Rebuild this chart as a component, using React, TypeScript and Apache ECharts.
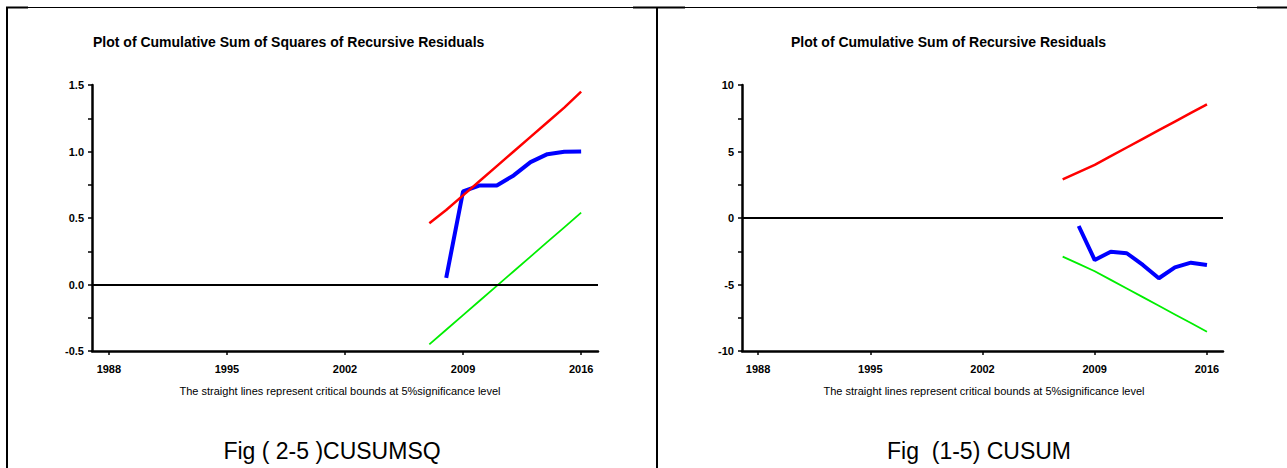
import React, { useEffect, useRef } from "react";
import * as echarts from "echarts";

// ---- data ----
const boundYears = [2007, 2008, 2009, 2010, 2011, 2012, 2013, 2014, 2015, 2016];
const residYears = [2008, 2009, 2010, 2011, 2012, 2013, 2014, 2015, 2016];

// CUSUMSQ (left)
const sqUpper = [0.46, 0.56, 0.67, 0.78, 0.89, 1.0, 1.11, 1.22, 1.33, 1.45];
const sqLower = [-0.45, -0.34, -0.23, -0.12, -0.01, 0.1, 0.21, 0.32, 0.43, 0.54];
const sqValues = [0.05, 0.7, 0.745, 0.745, 0.82, 0.92, 0.98, 0.998, 1.0];

// CUSUM (right)
const cuUpper = [2.9, 3.45, 4.0, 4.65, 5.3, 5.95, 6.6, 7.25, 7.9, 8.55];
const cuLower = [-2.9, -3.45, -4.0, -4.65, -5.3, -5.95, -6.6, -7.25, -7.9, -8.55];
const cuValues = [-0.6, -3.16, -2.53, -2.65, -3.53, -4.53, -3.71, -3.36, -3.53];

const xTickYears = [1988, 1995, 2002, 2009, 2016];

const leftTitle = "Plot of Cumulative Sum of Squares of Recursive Residuals";
const rightTitle = "Plot of Cumulative Sum of Recursive Residuals";
const footnote = "The straight lines represent critical bounds at 5%significance level";
const leftCaption = "Fig ( 2-5 )CUSUMSQ";
const rightCaption = "Fig  (1-5) CUSUM";

const FONT = "Liberation Sans, Arial, sans-serif";

const pairs = (xs: number[], ys: number[]) => xs.map((x, i) => [x, ys[i]]);

function xAxisFor(gridIndex: number) {
  return {
    gridIndex,
    type: "value",
    min: 1987,
    max: 2017,
    axisLine: { show: true, onZero: false, lineStyle: { color: "#000", width: 2.5 } },
    axisTick: { show: true, customValues: xTickYears, length: 4, lineStyle: { color: "#000", width: 1.5 } },
    axisLabel: {
      customValues: xTickYears,
      color: "#000",
      fontWeight: "bold",
      fontSize: 11,
      fontFamily: FONT,
      margin: 12,
      formatter: (v: number) => String(v),
    },
    splitLine: { show: false },
  };
}

function yAxisFor(gridIndex: number, min: number, max: number, interval: number, fmt: (v: number) => string) {
  return {
    gridIndex,
    type: "value",
    min,
    max,
    interval,
    axisLine: { show: true, onZero: false, lineStyle: { color: "#000", width: 2.5 } },
    axisTick: { show: true, length: 4, lineStyle: { color: "#000", width: 1.5 } },
    minorTick: { show: true, splitNumber: 2, length: 4, lineStyle: { color: "#000", width: 1.5 } },
    axisLabel: {
      color: "#000",
      fontWeight: "bold",
      fontSize: 11,
      fontFamily: FONT,
      margin: 8,
      formatter: fmt,
    },
    splitLine: { show: false },
    minorSplitLine: { show: false },
  };
}

function seriesFor(idx: number, upper: number[], lower: number[], values: number[]) {
  return [
    {
      type: "line",
      xAxisIndex: idx,
      yAxisIndex: idx,
      data: pairs(residYears, values),
      symbol: "none",
      lineStyle: { color: "#0000ff", width: 4 },
      z: 3,
    },
    {
      type: "line",
      xAxisIndex: idx,
      yAxisIndex: idx,
      data: pairs(boundYears, upper),
      symbol: "none",
      lineStyle: { color: "#ff0000", width: 2.5 },
      z: 4,
    },
    {
      type: "line",
      xAxisIndex: idx,
      yAxisIndex: idx,
      data: pairs(boundYears, lower),
      symbol: "none",
      lineStyle: { color: "#00ee00", width: 1.8 },
      z: 4,
      markLine: {
        silent: true,
        symbol: ["none", "none"],
        label: { show: false },
        lineStyle: { color: "#000", width: 2, type: "solid" },
        data: [{ yAxis: 0 }],
      },
    },
  ];
}

function txt(text: string, x: number, y: number, size: number, weight: string, align: string) {
  return {
    type: "text",
    x,
    y,
    silent: true,
    style: {
      text,
      fill: "#000",
      font: `${weight} ${size}px ${FONT}`,
      textAlign: align,
      textVerticalAlign: "middle",
    },
  };
}

function ln(x1: number, y1: number, x2: number, y2: number, w: number) {
  return {
    type: "line",
    silent: true,
    shape: { x1, y1, x2, y2 },
    style: { stroke: "#000", lineWidth: w },
  };
}

export default function App() {
  const ref = useRef<HTMLDivElement>(null);
  useEffect(() => {
    if (!ref.current) return;
    const chart = echarts.init(ref.current, undefined, { renderer: "svg" });
    chart.setOption({
      animation: false,
      backgroundColor: "#fff",
      grid: [
        { left: 92, top: 85, width: 506, height: 266 },
        { left: 742, top: 85, width: 481, height: 266 },
      ],
      xAxis: [xAxisFor(0), xAxisFor(1)],
      yAxis: [
        yAxisFor(0, -0.5, 1.5, 0.5, (v: number) => v.toFixed(1)),
        yAxisFor(1, -10, 10, 5, (v: number) => String(v)),
      ],
      series: [...seriesFor(0, sqUpper, sqLower, sqValues), ...seriesFor(1, cuUpper, cuLower, cuValues)],
      graphic: [
        ln(6, 7.5, 1287, 7.5, 1),
        ln(6, 7.5, 28, 7.5, 2),
        ln(633, 7.5, 685, 7.5, 2),
        ln(1257, 7.5, 1287, 7.5, 2),
        ln(7, 7, 7, 468, 2),
        ln(657, 7, 657, 468, 2),
        txt(leftTitle, 93, 42, 14, "bold", "left"),
        txt(rightTitle, 791, 42, 14, "bold", "left"),
        txt(footnote, 340, 391, 11, "normal", "center"),
        txt(footnote, 984, 391, 11, "normal", "center"),
        txt(leftCaption, 332, 451, 23, "normal", "center"),
        txt(rightCaption, 979, 451, 23, "normal", "center"),
      ],
    });
    return () => chart.dispose();
  }, []);
  return (
    <div
      ref={ref}
      style={{ position: "fixed", left: 0, top: 0, width: 1287, height: 468, background: "#fff" }}
    />
  );
}
